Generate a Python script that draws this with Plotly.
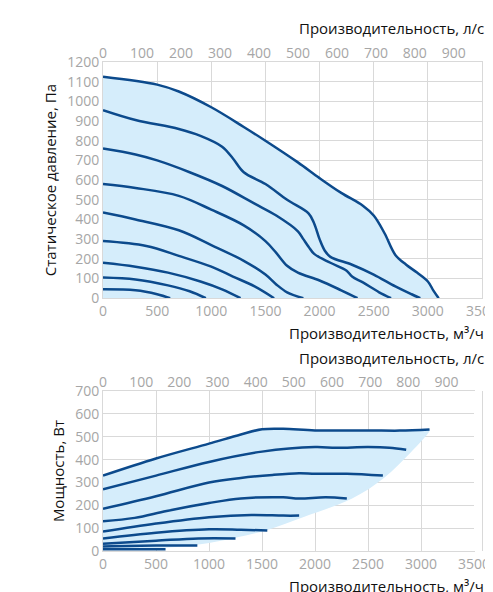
import plotly.graph_objects as go

# top chart: static pressure curves (m3/h, Pa)
p_curves = [
    ([0, 500, 700, 1000, 1300, 1500, 1800, 2000, 2200, 2400, 2500, 2600, 2700, 2800, 2900, 3000, 3050, 3100],
     [1125, 1085, 1050, 970, 870, 800, 690, 610, 535, 470, 420, 330, 220, 170, 130, 85, 40, 0]),
    ([0, 300, 700, 900, 1100, 1200, 1300, 1500, 1700, 1900, 1950, 2000, 2050, 2100, 2300, 2500, 2700, 2850, 2930],
     [955, 905, 860, 825, 770, 710, 640, 580, 500, 430, 380, 300, 240, 210, 170, 120, 60, 20, 0]),
    ([0, 300, 500, 800, 1100, 1400, 1600, 1800, 1850, 1900, 1950, 2100, 2250, 2300, 2400, 2550, 2660],
     [760, 730, 700, 640, 570, 480, 420, 340, 300, 260, 225, 180, 140, 110, 80, 30, 0]),
    ([0, 300, 700, 1000, 1300, 1500, 1600, 1700, 1800, 2000, 2200, 2350],
     [580, 560, 520, 450, 370, 290, 230, 165, 130, 90, 40, 0]),
    ([0, 300, 700, 1000, 1300, 1500, 1600, 1700, 1850],
     [435, 400, 345, 270, 190, 120, 70, 30, 0]),
    ([0, 400, 700, 1000, 1200, 1400, 1580], [290, 265, 215, 160, 110, 60, 0]),
    ([0, 300, 600, 900, 1100, 1270], [180, 160, 130, 85, 45, 0]),
    ([0, 300, 600, 800, 950], [105, 95, 65, 35, 0]),
    ([0, 300, 500, 620], [45, 40, 20, 0]),
]

# bottom chart: power curves (m3/h, W)
w_curves = [
    ([0, 500, 1000, 1300, 1500, 1700, 2000, 2500, 2800, 3080], [330, 405, 470, 510, 533, 535, 528, 528, 527, 532]),
    ([0, 500, 1000, 1500, 2000, 2200, 2500, 2700, 2860], [270, 330, 390, 435, 455, 452, 455, 452, 443]),
    ([0, 500, 1000, 1300, 1600, 1850, 2000, 2300, 2640], [185, 240, 300, 320, 333, 340, 338, 338, 330]),
    ([0, 300, 600, 1000, 1300, 1700, 1850, 2100, 2300], [130, 145, 175, 210, 230, 235, 230, 235, 230]),
    ([0, 500, 1000, 1400, 1700, 1850], [85, 120, 148, 158, 155, 155]),
    ([0, 500, 1000, 1300, 1550], [55, 80, 95, 93, 90]),
    ([0, 500, 900, 1250], [32, 45, 55, 55]),
    ([0, 500, 890], [20, 24, 24]),
    ([0, 300, 590], [8, 8, 8]),
]
w_lower_x = [0, 600, 900, 1250, 1550, 1900, 2350, 2650, 2900, 3080]
w_lower_y = [8, 15, 28, 58, 92, 150, 230, 320, 430, 525]

LINE = "#0c4a8c"
FILL = "#d5edfb"
GRID = "#d9d9d9"
TICK = dict(family="Open Sans", size=14, color="#a6a6a6")

fig = go.Figure()

x0, y0 = p_curves[0]
fig.add_trace(go.Scatter(x=x0, y=y0, mode="lines", fill="tozeroy", fillcolor=FILL,
                         line=dict(width=0, shape="spline"), xaxis="x", yaxis="y", hoverinfo="skip"))
for x, y in p_curves:
    fig.add_trace(go.Scatter(x=x, y=y, mode="lines", line=dict(color=LINE, width=2.5, shape="spline"),
                             xaxis="x", yaxis="y"))

bx, by = w_curves[0]
fig.add_trace(go.Scatter(x=bx + w_lower_x[::-1], y=by + w_lower_y[::-1], mode="lines", fill="toself",
                         fillcolor=FILL, line=dict(width=0, shape="spline"), xaxis="x2", yaxis="y2",
                         hoverinfo="skip"))
for x, y in w_curves:
    fig.add_trace(go.Scatter(x=x, y=y, mode="lines", line=dict(color=LINE, width=2.5, shape="spline"),
                             xaxis="x2", yaxis="y2"))

ax = dict(showgrid=True, gridcolor=GRID, zeroline=False, tickfont=TICK, linecolor=GRID,
          showline=True, mirror=True, ticks="", automargin=False)
top_ax = dict(showgrid=False, zeroline=False, tickfont=TICK, side="top", range=[0, 3500 / 3.6],
              tickvals=list(range(0, 1000, 100)), showline=False, automargin=False)
ytitle = dict(family="Open Sans", size=15, color="#111")

fig.update_layout(
    width=493, height=592, showlegend=False,
    paper_bgcolor="white", plot_bgcolor="white",
    margin=dict(l=95, r=19, t=54, b=49),
    xaxis=dict(ax, domain=[0, 1], range=[0, 3500], dtick=500, anchor="y"),
    yaxis=dict(ax, domain=[0.517, 1], range=[0, 1200], dtick=100,
               title=dict(text="Статическое давление, Па", font=ytitle, standoff=6)),
    xaxis3=dict(top_ax, overlaying="x", anchor="y"),
    xaxis2=dict(ax, domain=[0, 0.979], range=[0, 3500], dtick=500, anchor="y2"),
    yaxis2=dict(ax, domain=[0, 0.327], range=[0, 700], dtick=100,
                title=dict(text="Мощность, Вт", font=ytitle, standoff=6)),
    xaxis4=dict(top_ax, overlaying="x2", anchor="y2"),
)
# dummy traces to show the l/s axes
fig.add_trace(go.Scatter(x=[0], y=[None], xaxis="x3", yaxis="y", showlegend=False))
fig.add_trace(go.Scatter(x=[0], y=[None], xaxis="x4", yaxis="y2", showlegend=False))

tfont = dict(family="Open Sans", size=15, color="#111")
for text, yp in [("Производительность, л/с", 1.07), ("Производительность, м³/ч", 0.446),
                 ("Производительность, л/с", 0.395), ("Производительность, м³/ч", -0.072)]:
    fig.add_annotation(text=text, xref="paper", yref="paper", x=1.01, y=yp,
                       xanchor="right", yanchor="middle", showarrow=False, font=tfont)

fig.write_html("out.html")
